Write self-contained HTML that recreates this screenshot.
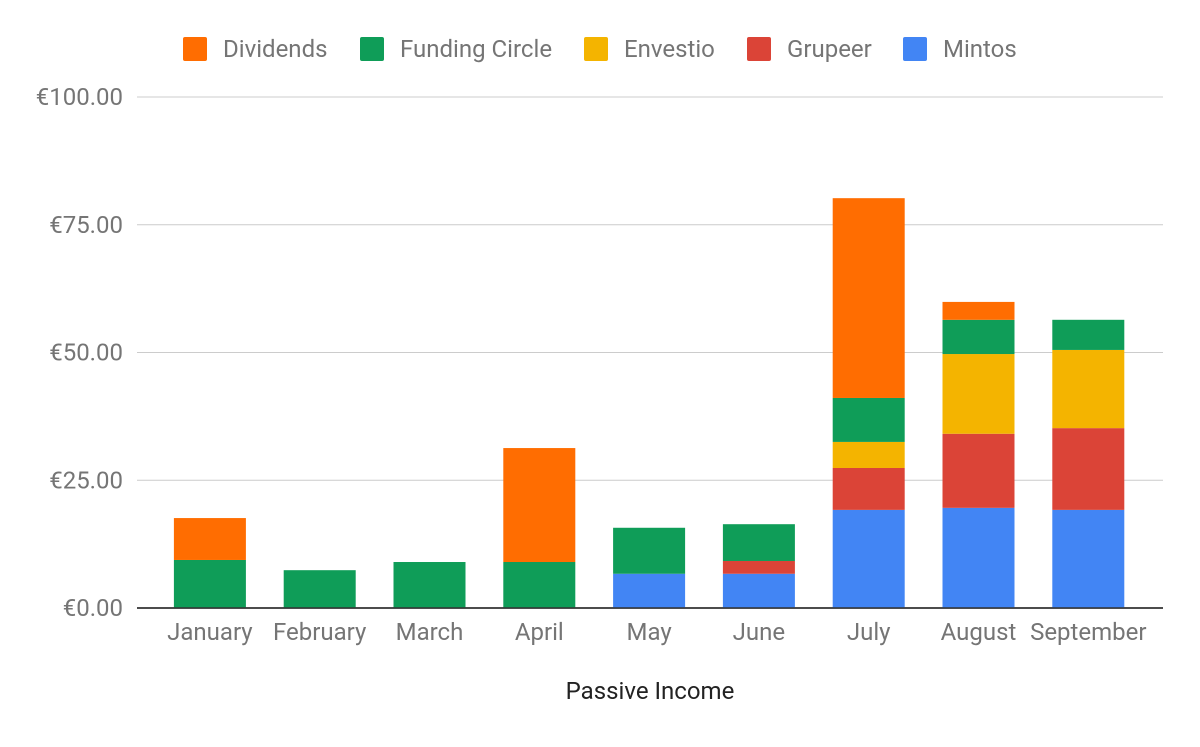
<!DOCTYPE html>
<html><head><meta charset="utf-8"><style>
html,body{margin:0;padding:0;background:#fff;}
svg text{font-family:"Roboto","Liberation Sans",sans-serif;}
</style></head><body>
<svg id="chart" width="1200" height="742"></svg>
<script>
const categories=["January","February","March","April","May","June","July","August","September"];
const seriesNames=["Mintos","Grupeer","Envestio","Funding Circle","Dividends"];
const mintos=[0,0,0,0,6.7,6.7,19.2,19.6,19.2];
const grupeer=[0,0,0,0,0,2.5,8.2,14.5,16.0];
const envestio=[0,0,0,0,0,0,5.1,15.6,15.3];
const fundingCircle=[9.4,7.4,9.0,9.0,9.0,7.2,8.6,6.7,5.9];
const dividends=[8.2,0,0,22.3,0,0,39.1,3.5,0];
const yTicks=[0,25,50,75,100];
const yTickLabels=["€0.00","€25.00","€50.00","€75.00","€100.00"];
const colors={"Mintos":"#4285f4","Grupeer":"#db4437","Envestio":"#f4b400","Funding Circle":"#0f9d58","Dividends":"#ff6d01"};
const legendOrder=["Dividends","Funding Circle","Envestio","Grupeer","Mintos"];
const legendX=[183,360,584,747,903];

const NS="http://www.w3.org/2000/svg";
const svg=document.getElementById('chart');
function el(t,a,p){const e=document.createElementNS(NS,t);for(const k in a)e.setAttribute(k,a[k]);(p||svg).appendChild(e);return e;}
const y0=608,y1=97,yMax=100,left=155,step=109.8,barW=72;
const y=v=>y0-(v/yMax)*(y0-y1);
const x=i=>left+step*i+step/2;

yTicks.forEach((t,i)=>{
  const g=el('line',{x1:137,x2:1163,y1:y(t),y2:y(t),stroke:t===0?'#333':'#ccc','stroke-width':t===0?1.5:1});
  
  
  const lb=el('text',{x:123,y:y(t)+8,'text-anchor':'end','font-size':24,fill:'#757575'});
  lb.textContent=yTickLabels[i];
  
  
});
const all={"Mintos":mintos,"Grupeer":grupeer,"Envestio":envestio,"Funding Circle":fundingCircle,"Dividends":dividends};
categories.forEach((c,i)=>{
  let acc=0;
  seriesNames.forEach(s=>{
    const v=all[s][i];
    if(v>0){
      const r=el('rect',{x:x(i)-barW/2,y:y(acc+v),width:barW,height:y(acc)-y(acc+v),fill:colors[s]});
      
      
    }
    acc+=v;
  });
  const t=el('text',{x:x(i),y:640,'text-anchor':'middle','font-size':24,fill:'#757575'});
  t.textContent=c;
  
  
});
el('line',{x1:137,x2:1163,y1:y0,y2:y0,stroke:'#333','stroke-width':1.5});
const xt=el('text',{x:650,y:699,'text-anchor':'middle','font-size':24,fill:'#222'});
xt.textContent="Passive Income";


legendOrder.forEach((s,i)=>{
  const g=el('g',{});
  
  
  el('rect',{x:legendX[i],y:37,width:24,height:24,rx:2,fill:colors[s]},g);
  const t=el('text',{x:legendX[i]+40,y:57,'font-size':24,fill:'#757575'},g);
  t.textContent=s;
});
</script>
</body></html>
